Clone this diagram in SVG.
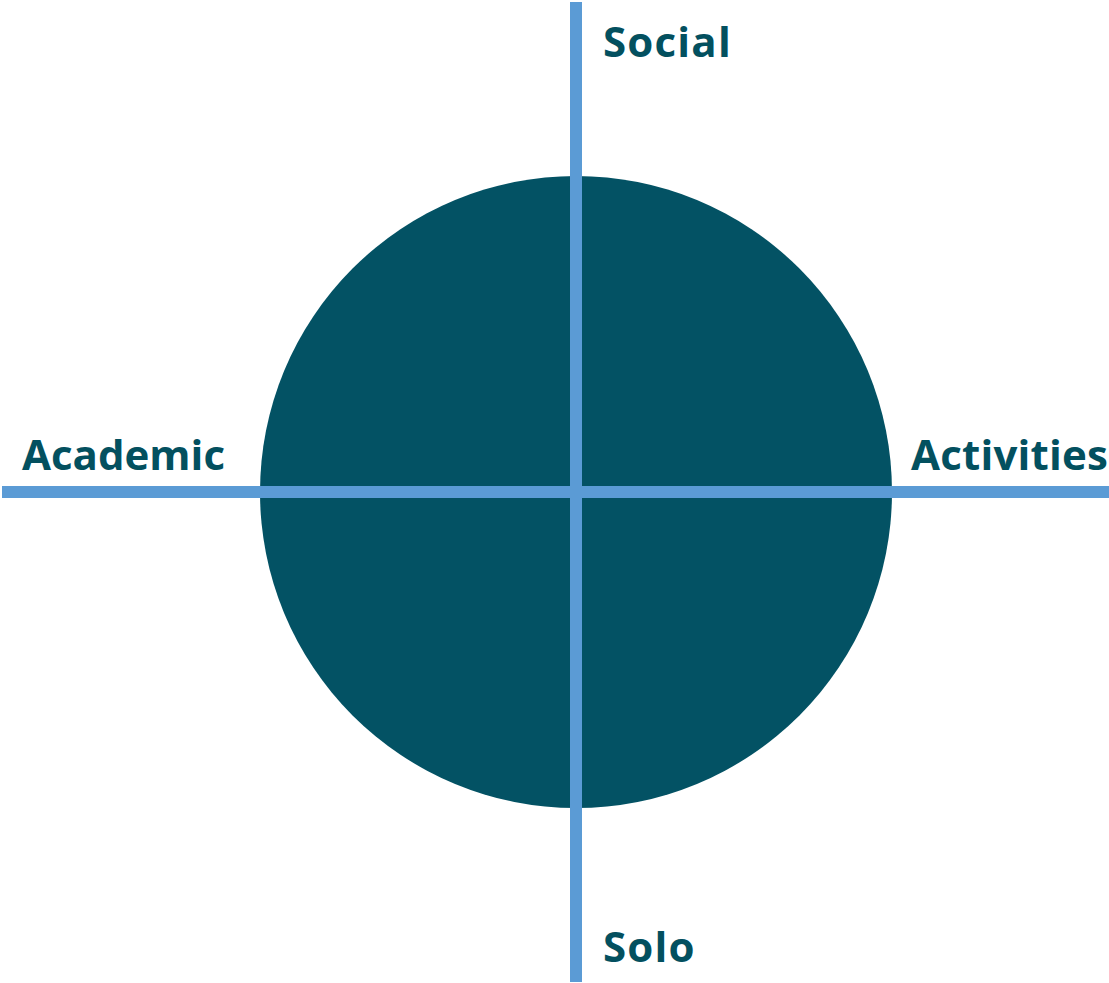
<svg xmlns="http://www.w3.org/2000/svg" width="1109" height="983" viewBox="0 0 1109 983">
<style>
.lbl{font-family:"Open Sans","Noto Sans",sans-serif;font-weight:700;font-size:42px;fill:#03505f}
.sp{letter-spacing:1.2px}
.axis{stroke:#5b9bd5;stroke-width:12;fill:none}
</style>
<rect width="1109" height="983" fill="#ffffff"/>
<g id="circle"><circle cx="576" cy="492" r="316" fill="#035264"/></g>
<g id="connectors">
<line class="axis" x1="576" y1="2" x2="576" y2="982"/>
<line class="axis" x1="2" y1="492" x2="1109" y2="492"/>
</g>
<g id="social"><text class="lbl sp" x="603" y="57">Social</text></g>
<g id="solo"><text class="lbl sp" x="603" y="962">Solo</text></g>
<g id="academic"><text class="lbl" x="22" y="470">Academic</text></g>
<g id="activities"><text class="lbl" x="1108" y="470" text-anchor="end" textLength="197" lengthAdjust="spacing">Activities</text></g>
</svg>
